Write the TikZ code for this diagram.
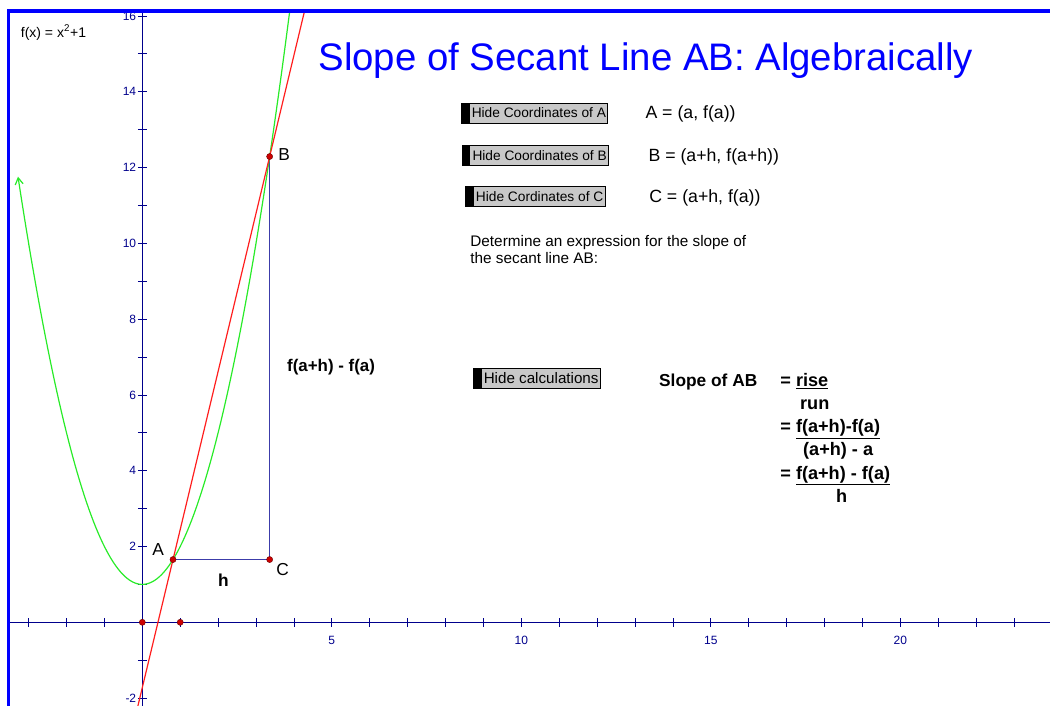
\documentclass[tikz,border=0pt]{standalone}
\usepackage{fontspec}
\setmainfont{Liberation Sans}
\usetikzlibrary{calc,arrows.meta}

\definecolor{axisnavy}{RGB}{0,0,140}
\definecolor{curvegreen}{RGB}{40,235,40}
\definecolor{secantred}{RGB}{255,30,30}
\definecolor{frameblue}{RGB}{0,0,255}
\definecolor{triblue}{RGB}{60,60,170}
\definecolor{buttongray}{RGB}{200,200,200}
\definecolor{dotred}{RGB}{205,0,0}

\tikzset{
  button/.style={draw=black, fill=buttongray, line width=0.4pt, inner xsep=1.2pt,
    inner ysep=0pt, minimum height=0.53cm,
    path picture={\fill[black] (path picture bounding box.south west)
      rectangle ([xshift=6pt]path picture bounding box.north west);}},
  ticklab/.style={text=axisnavy, font=\fontsize{9}{10}\selectfont, inner sep=1pt},
  ptlab/.style={font=\fontsize{13}{15}\selectfont, inner sep=0pt},
  calcline/.style={anchor=base west, font=\fontsize{13.6}{15}\selectfont\bfseries, inner sep=0pt},
}

\begin{document}
\begin{tikzpicture}[scale=1.0]
    \useasboundingbox (-3.755,-2.208) rectangle (23.95,16.42);

    \draw[axisnavy, line width=0.8pt] (-3.53,0) -- (23.95,0);
    \draw[axisnavy, line width=0.8pt] (0,-2.21) -- (0,16.13);
    \foreach \i in {-3,...,23} {
        \draw[axisnavy, line width=0.6pt] (\i,-0.12) -- (\i,0.12);
    }
    \foreach \j in {-2,...,16} {
        \draw[axisnavy, line width=0.6pt] (-0.12,\j) -- (0.12,\j);
    }
    \foreach \j in {-2,2,4,...,16} {
        \node[ticklab, anchor=east] (ylab\j) at (-0.12,\j) {\j};
    }
    \foreach \i in {5,10,15,20} {
        \node[ticklab] (xlab\i) at (\i,-0.47) {\i};
    }

    \coordinate (A) at (0.81,1.656);
    \coordinate (B) at (3.36,12.29);
    \coordinate (C) at (3.36,1.656);
    \draw[triblue, line width=1pt] (A) -- (C) -- (B);

    \draw[curvegreen, line width=0.9pt, {Straight Barb[length=5pt,width=6pt]}-] plot[domain=-3.28:3.89, samples=120] (\x,{\x*\x+1});
    \draw[secantred, line width=0.9pt] ($(A)!-0.364!(B)$) -- ($(A)!1.361!(B)$);

    \foreach \p in {A,B,C} {
        \fill[dotred, draw=red!40!black, line width=0.3pt] (\p) circle (2.3pt);
    }
    \fill[dotred, draw=red!40!black, line width=0.3pt] (0,0) circle (2.3pt);
    \fill[dotred, draw=red!40!black, line width=0.3pt] (1,0) circle (2.3pt);

    \node[ptlab] (labA) at (0.415,1.91) {A};
    \node[ptlab] (labB) at (3.74,12.34) {B};
    \node[ptlab] (labC) at (3.70,1.38) {C};
    \node[ptlab, font=\fontsize{13}{15}\selectfont\bfseries] (labh) at (2.14,1.11) {h};
    \node[ptlab, font=\fontsize{12.7}{15}\selectfont\bfseries] (rise) at (4.98,6.74) {f(a+h) - f(a)};

    \draw[frameblue, line width=2.3pt] (-3.53,-2.3) -- (-3.53,16.13) -- (24.1,16.13);

    \node[anchor=base west, inner sep=0pt, font=\fontsize{10.5}{12}\selectfont] (func) at (-3.21,15.44) {f(x) = x\textsuperscript{2}+1};
    \node[anchor=base west, inner sep=0pt, text=frameblue, font=\fontsize{28.8}{32}\selectfont] (title) at (4.64,14.55) {Slope of Secant Line AB: Algebraically};

    \node[button, font=\fontsize{10.3}{12}\selectfont] (hideA) at (10.35,13.44) {\hspace*{6.5pt}Hide Coordinates of A};
    \node[button, font=\fontsize{10.3}{12}\selectfont] (hideB) at (10.37,12.32) {\hspace*{6.5pt}Hide Coordinates of B};
    \node[button, font=\fontsize{10.3}{12}\selectfont] (hideC) at (10.37,11.23) {\hspace*{6.5pt}Hide Cordinates of C};
    \node[ptlab, anchor=base west, font=\fontsize{13.3}{15}\selectfont] (coordA) at (13.27,13.30) {A = (a, f(a))};
    \node[ptlab, anchor=base west, font=\fontsize{13.3}{15}\selectfont] (coordB) at (13.35,12.17) {B = (a+h, f(a+h))};
    \node[ptlab, anchor=base west, font=\fontsize{13.3}{15}\selectfont] (coordC) at (13.37,11.08) {C = (a+h, f(a))};

    \node[anchor=west, align=left, inner sep=0pt, font=\fontsize{11.5}{12.8}\selectfont] (task) at (8.65,9.84)
        {Determine an expression for the slope of\\the secant line AB:};

    \node[button, font=\fontsize{11.4}{13}\selectfont] (hidecalc) at (10.41,6.45) {\hspace*{6.5pt}Hide calculations};
    \node[calcline, font=\fontsize{13}{15}\selectfont\bfseries] (slope) at (13.63,6.22) {Slope of AB};
    \node[calcline] (eq1) at (16.83,6.22) {= \underline{rise}};
    \node[calcline] (den1) at (17.35,5.61) {run};
    \node[calcline] (eq2) at (16.83,5.00) {= \underline{f(a+h)-f(a)}};
    \node[calcline] (den2) at (17.43,4.39) {(a+h) - a};
    \node[calcline] (eq3) at (16.83,3.78) {= \underline{f(a+h) - f(a)}};
    \node[calcline, anchor=base] (den3) at (18.45,3.17) {h};
\end{tikzpicture}
\end{document}
